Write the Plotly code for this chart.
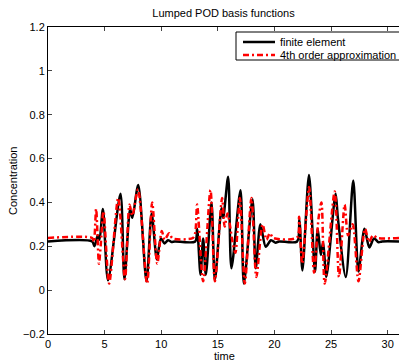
import plotly.graph_objects as go

# finite element (black solid) key points
fe_t = [0, 3.9, 4.1, 4.4, 4.55, 4.85, 5.3, 6.4, 6.75, 7.25, 7.45, 7.97, 8.7, 9.15, 9.62, 9.97,
        10.3, 10.6, 10.9, 11.2, 13.0, 13.17, 13.47, 13.7, 13.94, 14.44, 14.74, 15.32, 15.47,
        15.91, 16.2, 17.0, 17.3, 18.06, 18.35, 18.76, 19.23, 19.7, 20.1, 20.4, 22.0, 22.2,
        22.47, 23.05, 23.58, 23.82, 24.1, 24.3, 24.58, 25.4, 25.6, 26.3, 26.96, 27.42, 27.95,
        28.38, 28.8, 29.2, 29.5, 31]
fe_y = [0.222, 0.222, 0.20, 0.25, 0.23, 0.37, 0.045, 0.44, 0.05, 0.37, 0.33, 0.48, 0.04, 0.35,
        0.14, 0.236, 0.213, 0.228, 0.22, 0.222, 0.222, 0.28, 0.07, 0.236, 0.07, 0.40, 0.046,
        0.373, 0.33, 0.517, 0.10, 0.456, 0.03, 0.414, 0.10, 0.30, 0.198, 0.228, 0.216, 0.222,
        0.222, 0.32, 0.09, 0.525, 0.084, 0.28, 0.16, 0.22, 0.06, 0.44, 0.33, 0.06, 0.50, 0.085,
        0.28, 0.195, 0.236, 0.218, 0.222, 0.222]

# 4th order approximation (red dash-dot) key points
ap_t = [0, 3.9, 4.05, 4.25, 4.5, 4.65, 4.9, 5.4, 6.2, 6.8, 7.2, 7.45, 7.95, 8.75, 9.2, 9.65,
        10.05, 10.3, 10.7, 11.0, 12.8, 13.0, 13.17, 13.7, 14.35, 14.74, 15.38, 15.6, 15.85,
        16.3, 16.55, 16.94, 17.38, 17.97, 18.4, 18.95, 19.3, 19.6, 19.9, 22.0, 22.18, 22.45,
        23.06, 23.5, 23.9, 24.15, 24.44, 25.32, 25.7, 26.2, 26.5, 26.9, 27.42, 28.0, 28.35,
        28.7, 29.1, 31]
ap_y = [0.238, 0.238, 0.22, 0.37, 0.12, 0.20, 0.36, 0.03, 0.42, 0.05, 0.39, 0.34, 0.46, 0.03,
        0.40, 0.12, 0.27, 0.23, 0.26, 0.236, 0.238, 0.26, 0.39, 0.04, 0.456, 0.04, 0.42, 0.29,
        0.35, 0.22, 0.17, 0.42, 0.03, 0.42, 0.06, 0.30, 0.23, 0.26, 0.238, 0.24, 0.335, 0.12,
        0.47, 0.08, 0.33, 0.40, 0.03, 0.45, 0.06, 0.39, 0.25, 0.30, 0.04, 0.28, 0.22, 0.25,
        0.238, 0.238]

series_names = ["finite element", "4th order approximation"]
x_ticks = [0, 5, 10, 15, 20, 25, 30]
y_ticks = [-0.2, 0, 0.2, 0.4, 0.6, 0.8, 1, 1.2]
y_tick_text = ["\u22120.2", "0", "0.2", "0.4", "0.6", "0.8", "1", "1.2"]

BLACK_LINE = dict(color="black", width=2.5)
RED_LINE = dict(color="red", width=2.5, dash="6px,3px,2px,3px")

fig = go.Figure()
fig.add_trace(go.Scatter(x=fe_t, y=fe_y, mode="lines", name=series_names[0],
                         line=dict(**BLACK_LINE, shape="spline", smoothing=0.8)))
fig.add_trace(go.Scatter(x=ap_t, y=ap_y, mode="lines", name=series_names[1],
                         line=dict(**RED_LINE, shape="spline", smoothing=0.8)))

# compact MATLAB-style legend box (paper coordinates)
PW, PH, L, T = 351.0, 307.0, 48.0, 27.0
def px(xp):
    return (xp - L) / PW
def py(yp):
    return 1 - (yp - T) / PH

shapes = [
    dict(type="rect", xref="paper", yref="paper", x0=px(236), x1=px(410), y0=py(60), y1=py(32),
         line=dict(color="black", width=1), fillcolor="white", layer="above"),
    dict(type="line", xref="paper", yref="paper", x0=px(243), x1=px(275), y0=py(42), y1=py(42),
         line=BLACK_LINE, layer="above"),
    dict(type="line", xref="paper", yref="paper", x0=px(243), x1=px(275), y0=py(55), y1=py(55),
         line=RED_LINE, layer="above"),
]
annotations = [
    dict(xref="paper", yref="paper", x=px(278), y=py(42), text=series_names[0], showarrow=False,
         xanchor="left", yanchor="middle", font=dict(size=11)),
    dict(xref="paper", yref="paper", x=px(278), y=py(55), text=series_names[1], showarrow=False,
         xanchor="left", yanchor="middle", font=dict(size=11)),
    # axis titles
    dict(xref="paper", yref="paper", x=px(224), y=py(356), text="time", showarrow=False,
         xanchor="center", yanchor="middle", font=dict(size=11)),
    dict(xref="paper", yref="paper", x=px(12.5), y=py(180.5), text="Concentration",
         showarrow=False, textangle=-90, xanchor="center", yanchor="middle",
         font=dict(size=11)),
]

font = dict(family="Liberation Sans, Arial, sans-serif", size=11, color="black")
fig.update_layout(
    width=399, height=362,
    margin=dict(l=48, r=0, t=27, b=28),
    paper_bgcolor="white", plot_bgcolor="white",
    font=font,
    title=dict(text="Lumped POD basis functions", x=0.5 + 24 / 399, xanchor="center",
               y=1 - 13 / 362, yanchor="middle", font=dict(size=11)),
    showlegend=False,
    shapes=shapes, annotations=annotations,
    xaxis=dict(range=[0, 31], tickvals=x_ticks, ticks="inside", ticklen=4, automargin=False,
               showline=True, linecolor="black", linewidth=1, mirror="ticks",
               showgrid=False, zeroline=False),
    yaxis=dict(range=[-0.2, 1.2], tickvals=y_ticks, ticktext=y_tick_text, automargin=False,
               ticks="inside", ticklen=4, showline=True, linecolor="black", linewidth=1,
               showgrid=False, zeroline=False),
)

fig.write_html("out.html")
